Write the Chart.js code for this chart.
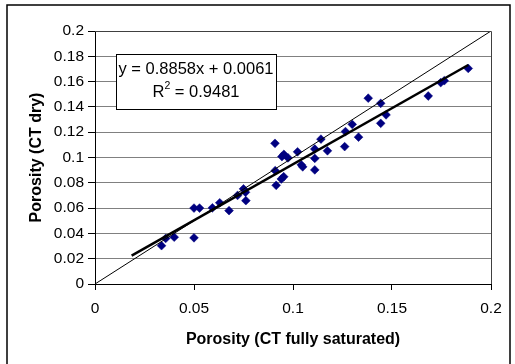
<!DOCTYPE html>
<html><head><meta charset="utf-8">
<script src="https://cdn.jsdelivr.net/npm/chart.js@4/dist/chart.umd.min.js"></script>
<style>html,body{margin:0;padding:0;background:#fff}#wrap{width:515px;height:364px;position:relative}</style>
</head><body><div id="wrap"><canvas id="c" width="515" height="364"></canvas></div>
<script>
// Data
const saturatedPorosity = [0.0336,0.0357,0.0400,0.0500,0.0500,0.0528,0.0593,0.0630,0.0677,0.0720,0.0750,0.0760,0.0762,0.0909,0.0910,0.0915,0.0941,0.0953,0.0944,0.0954,0.0975,0.1023,0.1042,0.1049,0.1110,0.1110,0.1110,0.1141,0.1174,0.1261,0.1265,0.1299,0.1331,0.1380,0.1443,0.1443,0.1470,0.1683,0.1746,0.1764,0.1885];
const dryPorosity = [0.0303,0.0360,0.0370,0.0365,0.0600,0.0600,0.0602,0.0642,0.0580,0.0700,0.0752,0.0725,0.0659,0.1112,0.0896,0.0780,0.0830,0.0848,0.1007,0.1025,0.0997,0.1045,0.0942,0.0926,0.1067,0.0993,0.0902,0.1145,0.1053,0.1086,0.1205,0.1262,0.1161,0.1469,0.1428,0.1270,0.1337,0.1486,0.1592,0.1607,0.1704];
const trendX = [0.0185, 0.1885];
const trendY = [0.0225, 0.1731];
const identityX = [0, 0.2];
const identityY = [0, 0.2];
const xTickLabels = ['0','0.05','0.1','0.15','0.2'];
const yTickLabels = ['0','0.02','0.04','0.06','0.08','0.1','0.12','0.14','0.16','0.18','0.2'];
const xTitle = 'Porosity (CT fully saturated)';
const yTitle = 'Porosity (CT dry)';
const equationText = 'y = 0.8858x + 0.0061';
const r2Text = '0.9481';

const FONT = '"Liberation Sans", Arial, sans-serif';
const toXY = (xs, ys) => xs.map((x, i) => ({x: x, y: ys[i]}));

const decor = {
  id: 'decor',
  afterDraw(chart) {
    const ctx = chart.ctx, a = chart.chartArea;
    ctx.save();
    // outer frame
    ctx.strokeStyle = '#000'; ctx.lineWidth = 1.5;
    ctx.beginPath();
    ctx.moveTo(7, 366); ctx.lineTo(7, 5); ctx.lineTo(510, 5); ctx.lineTo(510, 366);
    ctx.stroke();
    // plot border top/right
    ctx.lineWidth = 1; ctx.strokeStyle = '#404040';
    ctx.beginPath();
    ctx.moveTo(a.left, a.top + 0.5); ctx.lineTo(a.right + 0.5, a.top + 0.5); ctx.lineTo(a.right + 0.5, a.bottom);
    ctx.stroke();
    // equation box
    const bx = a.left + 21, by = a.top + 23, bw = 160, bh = 55;
    ctx.fillStyle = '#fff';
    ctx.fillRect(bx, by, bw, bh);
    ctx.strokeStyle = '#000';
    ctx.strokeRect(bx + 0.5, by + 0.5, bw, bh);
    ctx.fillStyle = '#000';
    ctx.textBaseline = 'middle';
    ctx.font = '16.5px ' + FONT;
    ctx.textAlign = 'center';
    const cx = bx + bw / 2;
    ctx.fillText(equationText, cx, by + 15);
    // R^2 line
    ctx.textAlign = 'left';
    const mainFont = '16.5px ' + FONT, supFont = '10.5px ' + FONT;
    ctx.font = mainFont; const wR = ctx.measureText('R').width;
    const rest = ' = ' + r2Text; const wRest = ctx.measureText(rest).width;
    ctx.font = supFont; const w2 = ctx.measureText('2').width;
    const total = wR + w2 + wRest;
    let x0 = cx - total / 2; const y2 = by + 38;
    ctx.font = mainFont; ctx.fillText('R', x0, y2);
    ctx.font = supFont; ctx.fillText('2', x0 + wR, y2 - 6);
    ctx.font = mainFont; ctx.fillText(rest, x0 + wR + w2, y2);
    ctx.restore();
  }
};

new Chart(document.getElementById('c'), {
  type: 'scatter',
  data: {
    datasets: [
      {
        label: 'Trend', type: 'line', data: toXY(trendX, trendY), order: 0,
        borderColor: '#000', borderWidth: 2.5, pointRadius: 0, fill: false, tension: 0
      },
      {
        label: '1:1', type: 'line', data: toXY(identityX, identityY), order: 1,
        borderColor: '#000', borderWidth: 1, pointRadius: 0, fill: false, tension: 0
      },
      {
        label: 'Porosity', data: toXY(saturatedPorosity, dryPorosity), order: 2,
        pointStyle: 'rectRot', pointRadius: 4.4, backgroundColor: '#000080', borderColor: '#000080', borderWidth: 0.5
      }
    ]
  },
  options: {
    responsive: false, animation: false, devicePixelRatio: 1,
    layout: { padding: { left: 27, right: 24, top: 31, bottom: 15 } },
    plugins: { legend: { display: false }, tooltip: { enabled: false } },
    scales: {
      x: {
        type: 'linear', min: 0, max: 0.2,
        afterFit(s) { s.height = 65; },
        ticks: { stepSize: 0.05, padding: 9, color: '#000', font: { family: FONT, size: 15.5 },
          maxRotation: 0, autoSkip: false,
          callback: (v, i) => xTickLabels[i] },
        grid: { drawOnChartArea: false, drawTicks: true, tickLength: 6, tickColor: '#000' },
        border: { color: '#000', width: 1 },
        title: { display: true, text: xTitle, color: '#000', padding: 0, font: { family: FONT, size: 16, weight: 'bold' } }
      },
      y: {
        type: 'linear', min: 0, max: 0.2,
        afterFit(s) { s.width = 68; },
        ticks: { stepSize: 0.02, padding: 4, color: '#000', font: { family: FONT, size: 15.5 },
          autoSkip: false,
          callback: (v, i) => yTickLabels[i] },
        grid: { color: '#808080', lineWidth: 1, drawTicks: true, tickLength: 7, tickColor: '#000' },
        border: { color: '#000', width: 1 },
        title: { display: true, text: yTitle, color: '#000', padding: 0, font: { family: FONT, size: 16, weight: 'bold' } }
      }
    }
  },
  plugins: [decor]
});
</script>
</body></html>
